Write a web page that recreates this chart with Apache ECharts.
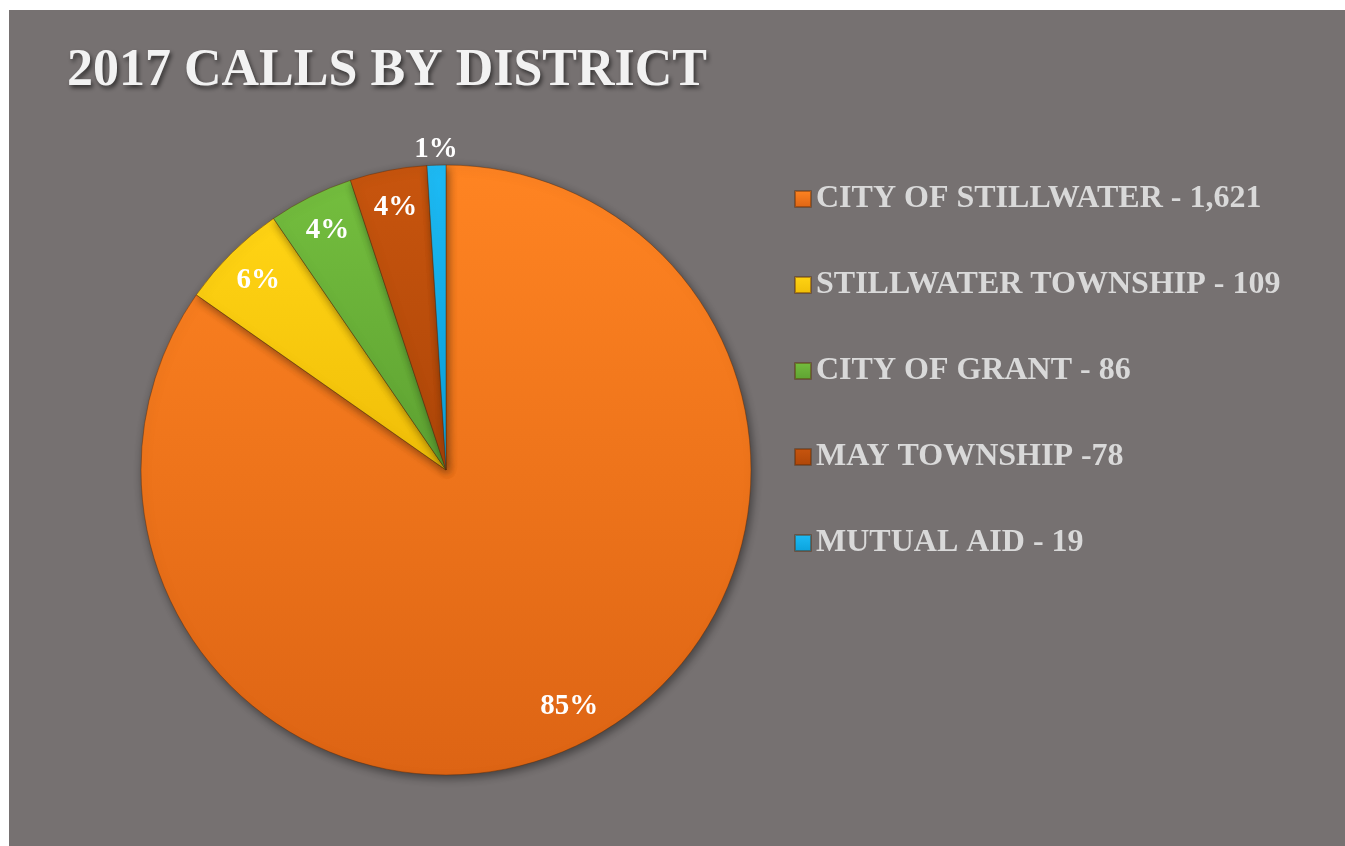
<!DOCTYPE html>
<html>
<head>
<meta charset="utf-8">
<script src="https://cdn.jsdelivr.net/npm/echarts@6/dist/echarts.min.js"></script>
<style>
  html, body { margin: 0; padding: 0; background: #ffffff; overflow: hidden; }
  #chart { position: absolute; left: 9px; top: 10px; width: 1336px; height: 836px; background: #767171; }
</style>
</head>
<body>
<div id="chart"></div>
<script>
const districts = ['CITY OF STILLWATER - 1,621', 'STILLWATER TOWNSHIP - 109', 'CITY OF GRANT - 86', 'MAY TOWNSHIP -78', 'MUTUAL AID - 19'];
const calls = [1621, 109, 86, 78, 19];
const topColors = ['#FF8422', '#FFD414', '#74BE3E', '#C8550E', '#1EBBF5'];
const bottomColors = ['#DD6414', '#F0BE08', '#5EA232', '#AE4608', '#0AA2DC'];

const chart = echarts.init(document.getElementById('chart'));

const serif = '"Liberation Serif", "Times New Roman", serif';
const center = [437, 460];

function grad(i) {
  return new echarts.graphic.LinearGradient(0, 0, 0, 1, [
    { offset: 0, color: topColors[i] },
    { offset: 1, color: bottomColors[i] }
  ]);
}

const pieData = districts.map((name, i) => ({ name: name, value: calls[i], itemStyle: { color: grad(i) } }));

// label-only overlays; last slice's label sits outside the pie
const innerLabels = districts.map((name, i) => ({
  name: name, value: calls[i],
  label: { show: i < districts.length - 1 }
}));
const outerLabels = districts.map((name, i) => ({
  name: name, value: calls[i],
  label: { show: i === districts.length - 1 }
}));

const labelStyle = {
  position: 'inside',
  formatter: (p) => Math.round(p.percent) + '%',
  color: '#ffffff',
  fontFamily: serif,
  fontWeight: 'bold',
  fontSize: 29
};

chart.setOption({
  backgroundColor: '#767171',
  animation: false,
  title: {
    text: '2017 CALLS BY DISTRICT',
    left: 53,
    top: 31,
    textStyle: {
      fontFamily: serif,
      fontWeight: 'bold',
      fontSize: 52,
      color: '#F2F2F2',
      textShadowColor: 'rgba(0,0,0,0.55)',
      textShadowBlur: 4,
      textShadowOffsetX: 2,
      textShadowOffsetY: 3
    }
  },
  legend: {
    orient: 'vertical',
    left: 780,
    top: 168,
    icon: 'rect',
    itemWidth: 16,
    itemHeight: 16,
    itemGap: 54,
    selectedMode: false,
    data: districts,
    textStyle: {
      fontFamily: serif,
      fontWeight: 'bold',
      fontSize: 32,
      lineHeight: 32,
      color: '#D9D9D9'
    }
  },
  series: [
    {
      type: 'pie',
      center: center,
      radius: 305,
      startAngle: 90,
      clockwise: true,
      silent: true,
      label: { show: false },
      labelLine: { show: false },
      itemStyle: {
        borderColor: 'rgba(90,45,10,0.45)',
        borderWidth: 1,
        shadowBlur: 10,
        shadowColor: 'rgba(0,0,0,0.45)',
        shadowOffsetX: 2,
        shadowOffsetY: 3
      },
      data: pieData
    },
    {
      type: 'pie',
      center: center,
      radius: [228, 300],
      startAngle: 90,
      silent: true,
      legendHoverLink: false,
      itemStyle: { color: 'rgba(0,0,0,0)' },
      label: labelStyle,
      labelLine: { show: false },
      emphasis: { disabled: true },
      data: innerLabels
    },
    {
      type: 'pie',
      center: center,
      radius: [305, 331],
      startAngle: 90,
      silent: true,
      legendHoverLink: false,
      itemStyle: { color: 'rgba(0,0,0,0)' },
      label: labelStyle,
      labelLine: { show: false },
      emphasis: { disabled: true },
      data: outerLabels
    }
  ]
});
</script>
</body>
</html>
